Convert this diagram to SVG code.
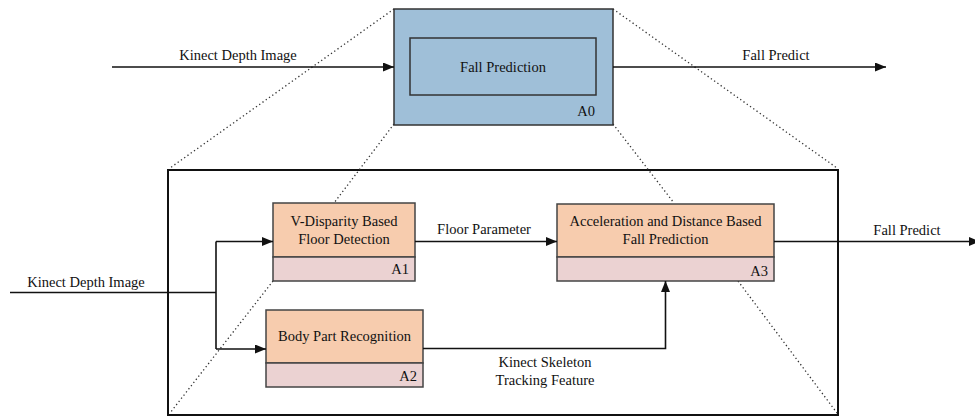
<svg xmlns="http://www.w3.org/2000/svg" width="975" height="416" viewBox="0 0 975 416">
  <defs>
    <style>
      text { font-family: "Liberation Serif", "Times New Roman", serif; font-size: 14.5px; fill: #111; }
      .mid { text-anchor: middle; }
      .end { text-anchor: end; }
      .wire { fill: none; stroke: #111; stroke-width: 1.6; }
      .dot { fill: none; stroke: #333; stroke-width: 1.3; stroke-dasharray: 1.3 2.7; }
      .top { fill: #f7ccae; stroke: #444; stroke-width: 1.5; }
      .bot { fill: #ebd2d2; stroke: #444; stroke-width: 1.5; }
    </style>
    <marker id="arrow" markerUnits="userSpaceOnUse" markerWidth="12" markerHeight="9" refX="11" refY="4.5" orient="auto">
      <path d="M0,0 L11,4.5 L0,9 z" fill="#111"/>
    </marker>
  </defs>

  <!-- decomposition frame and guide lines -->
  <g id="frame">
    <rect x="168" y="170" width="670" height="245" fill="none" stroke="#111" stroke-width="2"/>
    <path class="dot" d="M394,9 L170,168"/>
    <path class="dot" d="M613,9 L837,168"/>
    <path class="dot" d="M394,124 L334,203"/>
    <path class="dot" d="M273,281 L170,413"/>
    <path class="dot" d="M613,124 L674,203"/>
    <path class="dot" d="M738,281 L837,413"/>
  </g>

  <!-- parent activity -->
  <g id="A0">
    <rect x="394" y="9" width="219" height="116" fill="#9fbfd8" stroke="#333" stroke-width="1.5"/>
    <rect x="410" y="38" width="186" height="57" fill="none" stroke="#333" stroke-width="1.5"/>
    <text class="mid" x="503" y="72">Fall Prediction</text>
    <text class="end" x="595" y="116">A0</text>
  </g>

  <!-- child activities -->
  <g id="A1">
    <rect class="top" x="273" y="203" width="142" height="54"/>
    <rect class="bot" x="273" y="257" width="142" height="24"/>
    <text class="mid" x="344" y="226">V-Disparity Based</text>
    <text class="mid" x="344" y="244">Floor Detection</text>
    <text class="end" x="409" y="274">A1</text>
  </g>

  <g id="A2">
    <rect class="top" x="266" y="310" width="157" height="53"/>
    <rect class="bot" x="266" y="363" width="157" height="24"/>
    <text class="mid" x="344.5" y="341">Body Part Recognition</text>
    <text class="end" x="417" y="381">A2</text>
  </g>

  <g id="A3">
    <rect class="top" x="557" y="204" width="217" height="53"/>
    <rect class="bot" x="557" y="257" width="217" height="24"/>
    <text class="mid" x="665.5" y="226">Acceleration and Distance Based</text>
    <text class="mid" x="665.5" y="244">Fall Prediction</text>
    <text class="end" x="768" y="276">A3</text>
  </g>

  <!-- connectors -->
  <g id="connectors">
    <path class="wire" d="M112,67 L394,67" marker-end="url(#arrow)"/>
    <text class="mid" x="238" y="60">Kinect Depth Image</text>
    <path class="wire" d="M613,67 L886,67" marker-end="url(#arrow)"/>
    <text class="mid" x="776" y="60">Fall Predict</text>

    <path class="wire" d="M10,292.5 L216,292.5"/>
    <path class="wire" d="M216,241.5 L216,349"/>
    <path class="wire" d="M216,241.5 L273,241.5" marker-end="url(#arrow)"/>
    <path class="wire" d="M216,349 L266,349" marker-end="url(#arrow)"/>
    <text class="mid" x="86" y="287">Kinect Depth Image</text>

    <path class="wire" d="M415,241.5 L557,241.5" marker-end="url(#arrow)"/>
    <text class="mid" x="484" y="234">Floor Parameter</text>

    <path class="wire" d="M423,348.5 L665.5,348.5 L665.5,281" marker-end="url(#arrow)"/>
    <text class="mid" x="545" y="367">Kinect Skeleton</text>
    <text class="mid" x="545" y="385">Tracking Feature</text>

    <path class="wire" d="M774,241.5 L980,241.5" marker-end="url(#arrow)"/>
    <text class="mid" x="907" y="235">Fall Predict</text>
  </g>
</svg>
